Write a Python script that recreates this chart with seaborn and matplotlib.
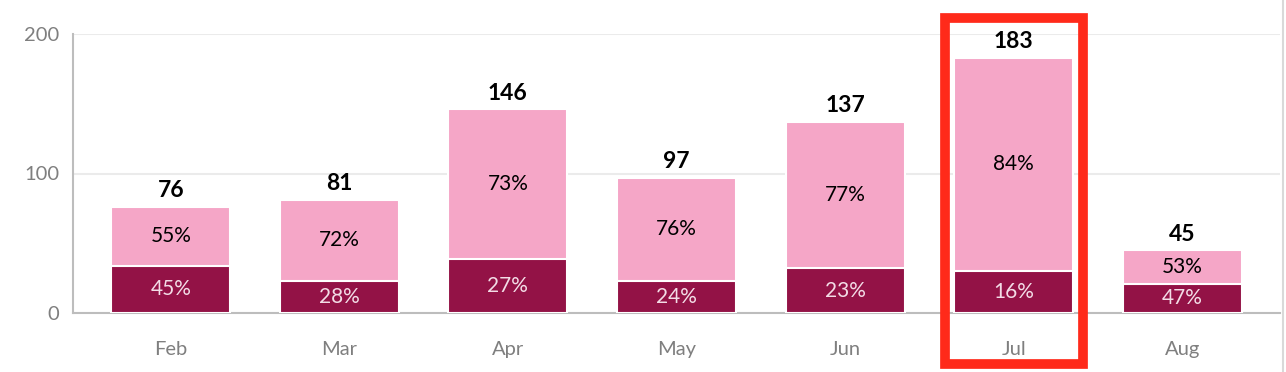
import matplotlib
matplotlib.use("Agg")
import matplotlib.pyplot as plt
import seaborn as sns
import pandas as pd
from matplotlib.patches import Rectangle
from matplotlib.lines import Line2D

months = ["Feb", "Mar", "Apr", "May", "Jun", "Jul", "Aug"]
totals = [76, 81, 146, 97, 137, 183, 45]
bottom_vals = [34, 23, 39, 23, 32, 30, 21]
bottom_pct = ["45%", "28%", "27%", "24%", "23%", "16%", "47%"]
top_pct = ["55%", "72%", "73%", "76%", "77%", "84%", "53%"]
highlight = "Jul"

DARK = "#931246"
PINK = "#F5A6C7"
GRAY = "#7F7F7F"

sns.set_style("white")
plt.rcParams["font.family"] = ["Lato", "DejaVu Sans"]

df = pd.DataFrame({"month": months, "total": totals, "bottom": bottom_vals})

fig = plt.figure(figsize=(12.86, 3.72), dpi=100)
ax = fig.add_axes([73 / 1286, 59 / 372, (1280 - 73) / 1286, (313 - 34) / 372])

# stacked bars: full total in pink, lower segment in dark on top of it
sns.barplot(data=df, x="month", y="total", color=PINK, width=0.706,
            edgecolor="white", linewidth=1.5, saturation=1, ax=ax, zorder=2)
sns.barplot(data=df, x="month", y="bottom", color=DARK, width=0.706,
            edgecolor="white", linewidth=1.5, saturation=1, ax=ax, zorder=3)

for i, (tot, bot) in enumerate(zip(totals, bottom_vals)):
    ax.annotate(str(tot), (i, tot), xytext=(0, 4), textcoords="offset points",
                ha="center", va="bottom", fontsize=16.5, fontweight="bold",
                color="black", zorder=5)
    ax.text(i, bot / 2, bottom_pct[i], ha="center", va="center",
            fontsize=15, color="#F3DCE6", zorder=5)
    ax.text(i, bot + (tot - bot) / 2, top_pct[i], ha="center", va="center",
            fontsize=15, color="black", zorder=5)

ax.set_xlim(-0.58, len(months) - 1 + 0.58)
ax.set_ylim(0, 200)
ax.set_yticks([0, 100, 200])
ax.set_xlabel("")
ax.set_ylabel("")
ax.grid(axis="y", color="#EBEBEB", linewidth=1.5, zorder=0)
ax.set_axisbelow(True)

for side in ["top", "right"]:
    ax.spines[side].set_visible(False)
for side in ["left", "bottom"]:
    ax.spines[side].set_color("#BDBDBD")
    ax.spines[side].set_linewidth(1.5)

ax.tick_params(axis="y", length=7, width=1.5, color="#BDBDBD",
               labelsize=14.5, labelcolor=GRAY, pad=3)
ax.tick_params(axis="x", length=0, labelsize=14.5, labelcolor=GRAY, pad=20)

# red highlight frame around the selected month
fig.add_artist(Rectangle((945 / 1286, (372 - 363.5) / 372),
                         (1082.5 - 945) / 1286, (363.5 - 18) / 372,
                         transform=fig.transFigure, fill=False,
                         edgecolor="#FF2A1A", linewidth=7, zorder=10))

fig.add_artist(Line2D([1282.5 / 1286, 1282.5 / 1286], [0, 1],
                      transform=fig.transFigure, color="#D9D9D9", linewidth=1.5))

fig.savefig("out.png", dpi=100)
